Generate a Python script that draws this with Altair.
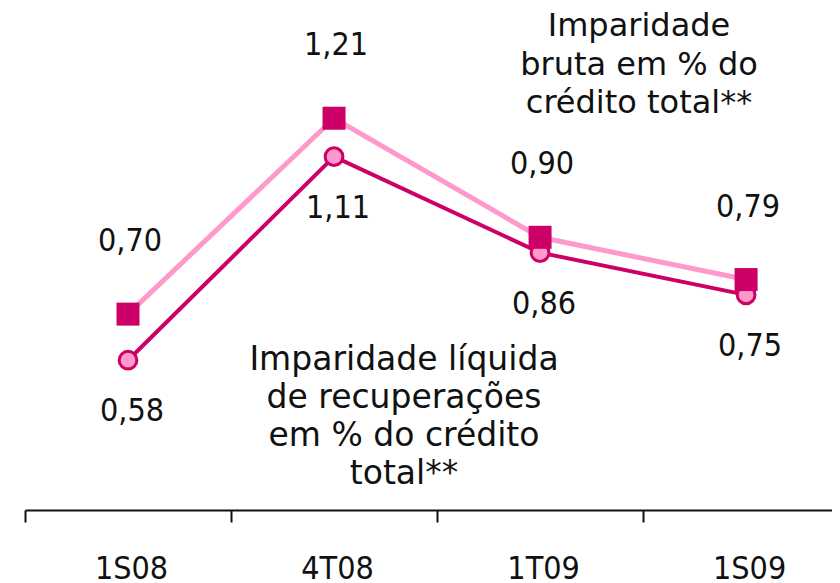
import altair as alt
import pandas as pd

periods = ["1S08", "4T08", "1T09", "1S09"]
bruta = [0.70, 1.21, 0.90, 0.79]
liquida = [0.58, 1.11, 0.86, 0.75]
bruta_labels = ["0,70", "1,21", "0,90", "0,79"]
liquida_labels = ["0,58", "1,11", "0,86", "0,75"]
note_bruta = ["Imparidade", "bruta em % do", "crédito total**"]
note_liquida = ["Imparidade líquida", "de recuperações", "em % do crédito", "total**"]

DARK = "#CC0066"
LIGHT = "#FF99CC"
FONT = "DejaVu Sans Condensed"
NOTE_FONT = "DejaVu Sans"

idx = list(range(len(periods)))
df_b = pd.DataFrame({"idx": idx, "period": periods, "value": bruta, "label": bruta_labels})
df_l = pd.DataFrame({"idx": idx, "period": periods, "value": liquida, "label": liquida_labels})

name_list = "[" + ",".join(f"'{p}'" for p in periods) + "]"
tick_values = []
for i in idx:
    tick_values += [i - 0.5, i]

x = alt.X(
    "idx:Q",
    scale=alt.Scale(domain=[-0.5, 3.417], nice=False, zero=False),
    axis=alt.Axis(
        title=None,
        values=tick_values,
        labelExpr=f"datum.value % 1 == 0 ? {name_list}[datum.value] : ''",
        labelAngle=0,
        labelFont=FONT,
        labelFontSize=32,
        labelColor="#111111",
        labelPadding=31,
        labelOffset=3,
        labelOverlap=False,
        labelFlush=False,
        labelBound=False,
        domainColor="#111111",
        domainWidth=2,
        tickColor={"condition": {"test": "datum.value % 1 == 0", "value": "transparent"}, "value": "#111111"},
        tickWidth=2,
        tickSize=12,
        ticks=True,
        grid=False,
    ),
)
y = alt.Y("value:Q", scale=alt.Scale(domain=[0.19, 1.497], nice=False, zero=False), axis=None)

line_b = alt.Chart(df_b).mark_line(color=LIGHT, strokeWidth=5).encode(x=x, y=y)
line_l = alt.Chart(df_l).mark_line(color=DARK, strokeWidth=4).encode(x=x, y=y)
pts_l = alt.Chart(df_l).mark_point(
    shape="circle", size=314, filled=True, fill=LIGHT, stroke=DARK, strokeWidth=3, opacity=1
).encode(x=x, y=y)
pts_b = alt.Chart(df_b).mark_point(
    shape="square", size=529, filled=True, color=DARK, opacity=1
).encode(x=x, y=y)

txt_b = alt.Chart(df_b).mark_text(
    font=FONT, fontSize=32, color="#111111", dy=-73, dx=2, baseline="middle"
).encode(x=x, y=y, text="label:N")
txt_l = alt.Chart(df_l).mark_text(
    font=FONT, fontSize=32, color="#111111", dy=51, dx=4, baseline="middle"
).encode(x=x, y=y, text="label:N")

one = pd.DataFrame({"k": [0]})
ann_b = alt.Chart(one).mark_text(
    text=note_bruta, font=NOTE_FONT, fontSize=32, color="#111111", lineHeight=38.5,
    align="center", baseline="alphabetic",
).encode(x=alt.value(614), y=alt.value(28))
ann_l = alt.Chart(one).mark_text(
    text=note_liquida, font=NOTE_FONT, fontSize=33, color="#111111", lineHeight=38,
    align="center", baseline="alphabetic",
).encode(x=alt.value(379), y=alt.value(362))

chart = alt.layer(line_b, line_l, pts_l, pts_b, txt_b, txt_l, ann_b, ann_l).properties(
    width=807,
    height=502,
    padding={"left": 17, "top": 0, "right": 0, "bottom": 73},
    autosize=alt.AutoSizeParams(type="none"),
    background="white",
).configure_view(stroke=None)

chart.save("out.html", embed_options={"renderer": "svg", "actions": False})
